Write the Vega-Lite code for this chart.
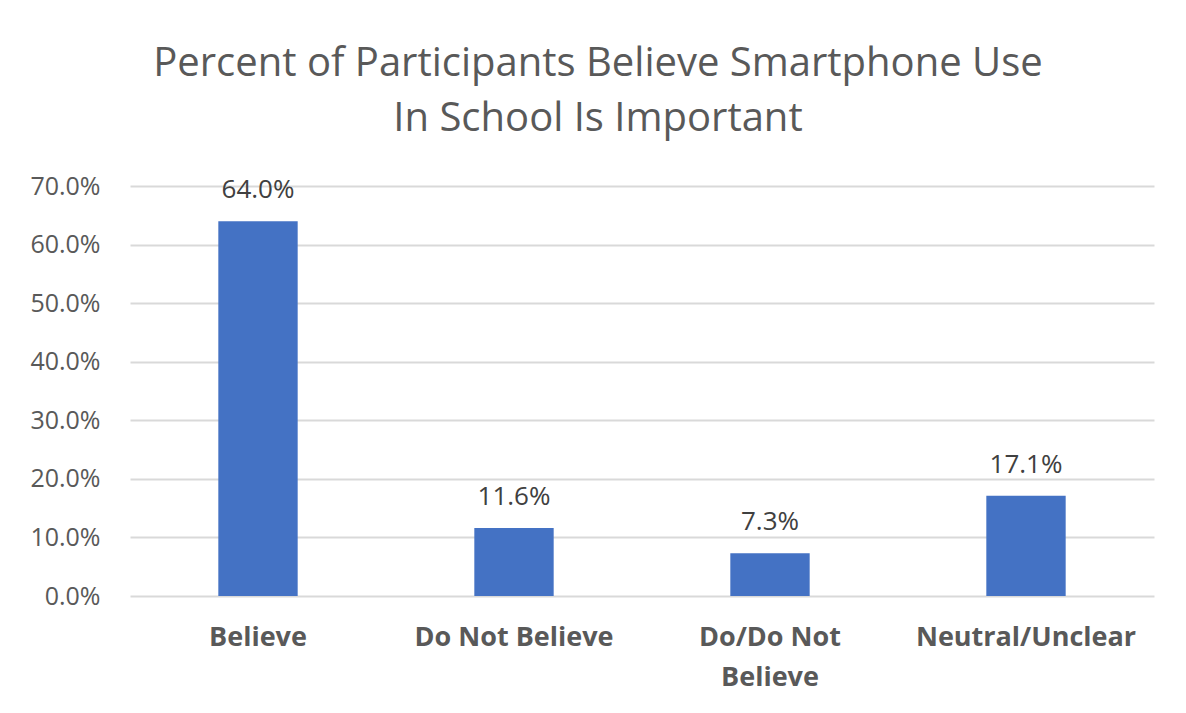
{
  "$schema": "https://vega.github.io/schema/vega-lite/v6.json",
  "width": 1024,
  "height": 410,
  "autosize": {"type": "none"},
  "padding": {"left": 130, "top": 186, "right": 32, "bottom": 117},
  "background": "white",
  "title": {
    "text": ["Percent of Participants Believe Smartphone Use", "In School Is Important"],
    "font": "Open Sans",
    "fontSize": 40,
    "fontWeight": "normal",
    "color": "#595959",
    "lineHeight": 55,
    "anchor": "middle",
    "dx": -44,
    "offset": 35
  },
  "data": {
    "values": [
      {"category": "Believe", "value": 0.640},
      {"category": "Do Not Believe", "value": 0.116},
      {"category": "Do/Do Not Believe", "value": 0.073},
      {"category": "Neutral/Unclear", "value": 0.171}
    ]
  },
  "encoding": {
    "x": {
      "field": "category",
      "type": "nominal",
      "sort": null,
      "scale": {"paddingInner": 0.69, "paddingOuter": 0.345},
      "axis": {
        "title": null,
        "labelAngle": 0,
        "labelFont": "Open Sans",
        "labelFontSize": 27,
        "labelFontWeight": "bold",
        "labelColor": "#595959",
        "labelPadding": 28,
        "labelLineHeight": 40,
        "labelBaseline": "top",
        "labelLimit": 0,
        "labelExpr": "datum.label == 'Do/Do Not Believe' ? ['Do/Do Not', 'Believe'] : datum.label",
        "ticks": false,
        "domain": false,
        "grid": false
      }
    },
    "y": {
      "field": "value",
      "type": "quantitative",
      "scale": {"domain": [0, 0.7], "nice": false},
      "axis": {
        "title": null,
        "values": [0, 0.1, 0.2, 0.3, 0.4, 0.5, 0.6, 0.7],
        "format": ".1%",
        "labelFont": "Open Sans",
        "labelFontSize": 25,
        "labelColor": "#595959",
        "labelPadding": 30,
        "ticks": false,
        "domain": false,
        "grid": true,
        "gridColor": "#d9d9d9",
        "gridWidth": 2
      }
    }
  },
  "layer": [
    {"mark": {"type": "bar", "color": "#4472C4"}},
    {
      "mark": {
        "type": "text",
        "font": "Open Sans",
        "fontSize": 26,
        "color": "#404040",
        "baseline": "alphabetic",
        "dy": -23
      },
      "encoding": {
        "text": {"field": "value", "type": "quantitative", "format": ".1%"}
      }
    }
  ],
  "config": {"view": {"stroke": null}}
}
